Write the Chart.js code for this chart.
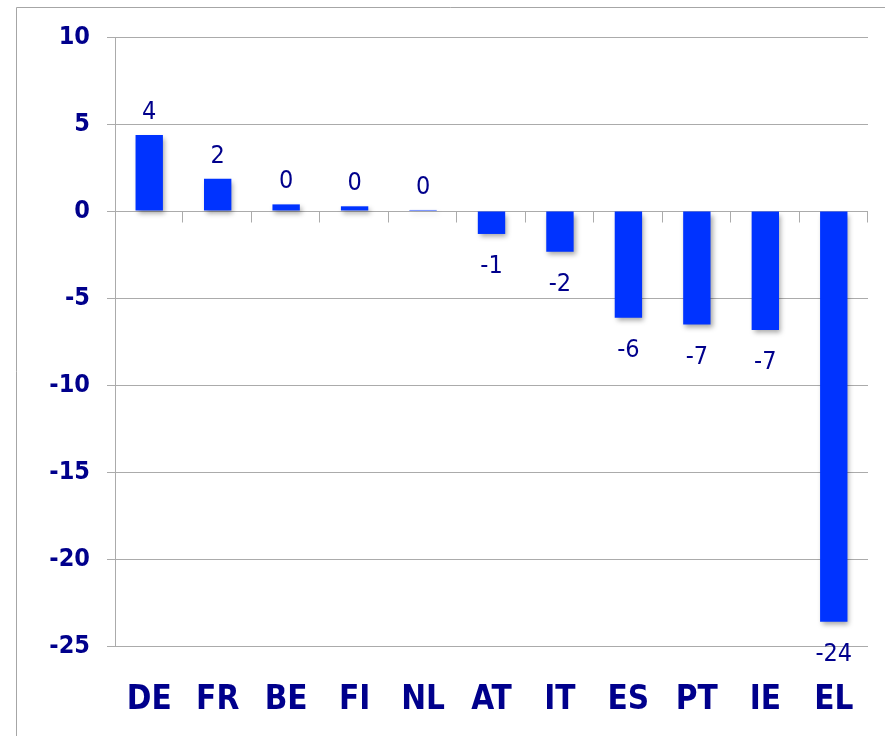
<!DOCTYPE html>
<html>
<head>
<meta charset="utf-8">
<script src="https://cdn.jsdelivr.net/npm/chart.js@4.4.1/dist/chart.umd.min.js"></script>
<style>
  html, body { margin: 0; padding: 0; background: #fff; }
  #wrap { width: 885px; height: 736px; }
</style>
</head>
<body>
<div id="wrap"><canvas id="balanceChart" width="885" height="736"></canvas></div>
<script>
// Values
const countries = ['DE', 'FR', 'BE', 'FI', 'NL', 'AT', 'IT', 'ES', 'PT', 'IE', 'EL'];
const balance = [4.37, 1.86, 0.38, 0.27, 0.06, -1.32, -2.34, -6.13, -6.53, -6.84, -23.6];
const valueLabels = ['4', '2', '0', '0', '0', '-1', '-2', '-6', '-7', '-7', '-24'];
const yMin = -25;
const yMax = 10;
const yStep = 5;

const navy = '#00008C';
const gridGray = '#ababab';
const fontFam = '"DejaVu Sans Condensed", "DejaVu Sans", sans-serif';

// outer frame (left + top) like the slide box
const framePlugin = {
  id: 'frame',
  beforeDraw(chart) {
    const ctx = chart.ctx;
    ctx.save();
    ctx.strokeStyle = '#a6a6a6';
    ctx.lineWidth = 1;
    ctx.beginPath();
    ctx.moveTo(16.5, chart.height);
    ctx.lineTo(16.5, 7.5);
    ctx.lineTo(chart.width, 7.5);
    ctx.stroke();
    ctx.restore();
  }
};

// category tick marks hanging below the zero line
const zeroTicks = {
  id: 'zeroTicks',
  afterDraw(chart) {
    const ctx = chart.ctx;
    const x = chart.scales.x;
    const y0 = Math.round(chart.scales.y.getPixelForValue(0)) + 0.5;
    const step = x.width / countries.length;
    ctx.save();
    ctx.strokeStyle = gridGray;
    ctx.lineWidth = 1;
    ctx.beginPath();
    for (let i = 1; i <= countries.length; i++) {
      const px = Math.round(x.left + i * step) - 0.5;
      ctx.moveTo(px, y0);
      ctx.lineTo(px, y0 + 11);
    }
    ctx.stroke();
    ctx.restore();
  }
};

// soft drop shadow under the bars
const barShadow = {
  id: 'barShadow',
  beforeDatasetDraw(chart) {
    const ctx = chart.ctx;
    ctx.save();
    ctx.shadowColor = 'rgba(0,0,0,0.35)';
    ctx.shadowBlur = 5;
    ctx.shadowOffsetX = 2;
    ctx.shadowOffsetY = 3;
  },
  afterDatasetDraw(chart) {
    chart.ctx.restore();
  }
};

// value labels above / below each bar
const valueLabelPlugin = {
  id: 'valueLabels',
  afterDatasetsDraw(chart) {
    const ctx = chart.ctx;
    const meta = chart.getDatasetMeta(0);
    ctx.save();
    ctx.fillStyle = navy;
    ctx.font = '25px ' + fontFam;
    ctx.textAlign = 'center';
    ctx.textBaseline = 'alphabetic';
    meta.data.forEach((bar, i) => {
      const v = balance[i];
      const ty = v >= 0 ? bar.y - 16 : bar.y + 39;
      ctx.fillText(valueLabels[i], bar.x, ty);
    });
    ctx.restore();
  }
};

new Chart(document.getElementById('balanceChart'), {
  type: 'bar',
  data: {
    labels: countries,
    datasets: [{
      data: balance,
      backgroundColor: '#0033FF',
      borderWidth: 0,
      barPercentage: 0.4,
      categoryPercentage: 1.0
    }]
  },
  options: {
    responsive: false,
    animation: false,
    layout: { padding: { left: 0, right: 17, top: 37, bottom: 20 } },
    plugins: {
      legend: { display: false },
      tooltip: { enabled: false }
    },
    scales: {
      x: {
        grid: { display: false, drawTicks: false },
        border: { display: false },
        ticks: {
          color: navy,
          font: { family: fontFam, size: 33, weight: 'bold', lineHeight: 1.45 },
          padding: 30,
          maxRotation: 0
        },
        afterFit(scale) { scale.height = 70; }
      },
      y: {
        min: yMin,
        max: yMax,
        grid: { color: gridGray, tickLength: 8, lineWidth: 1 },
        border: { display: true, color: gridGray },
        ticks: {
          stepSize: yStep,
          color: navy,
          font: { family: fontFam, size: 25, weight: 'bold' },
          padding: 17
        },
        afterFit(scale) { scale.width = 115; }
      }
    }
  },
  plugins: [framePlugin, zeroTicks, barShadow, valueLabelPlugin]
});
</script>
</body>
</html>
